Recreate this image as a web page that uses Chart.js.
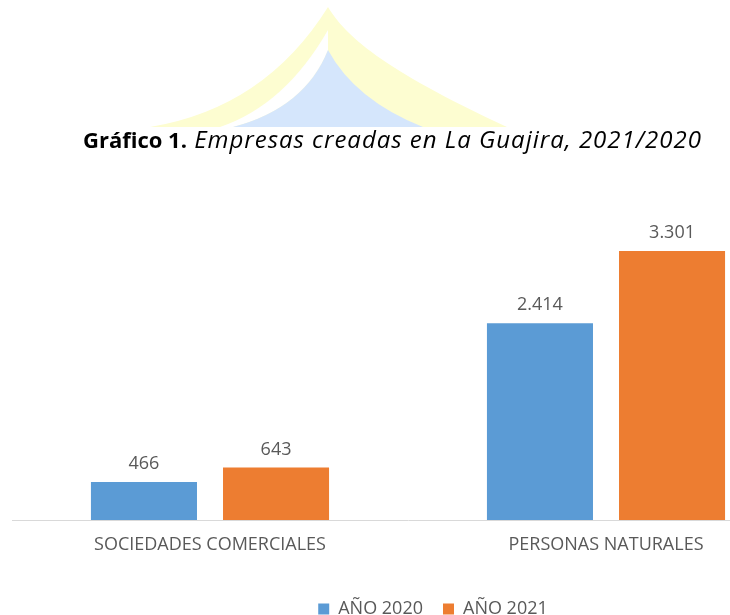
<!DOCTYPE html>
<html lang="es">
<head>
<meta charset="utf-8">
<title>Gráfico 1</title>
<script src="https://cdn.jsdelivr.net/npm/chart.js@4.4.1/dist/chart.umd.min.js"></script>
<style>
  html, body { margin: 0; padding: 0; background: #ffffff; overflow: hidden; }
  #grafico { position: absolute; left: 0; top: 0; }
</style>
</head>
<body>
<canvas id="grafico" width="854" height="628"></canvas>
<script>
// Datos del gráfico
const categorias = ['SOCIEDADES COMERCIALES', 'PERSONAS NATURALES'];
const series = ['AÑO 2020', 'AÑO 2021'];
const valores2020 = [466, 2414];
const valores2021 = [643, 3301];
const colores = ['#5b9bd5', '#ed7d31'];

// formato con punto de miles (2.414)
function formatoMiles(n) {
    return String(n).replace(/\B(?=(\d{3})+(?!\d))/g, '.');
}

// fondo decorativo (logo tenue) + título
const fondoTitulo = {
    id: 'fondoTitulo',
    beforeDraw(chart) {
        const ctx = chart.ctx;
        ctx.save();
        // arco amarillo
        ctx.fillStyle = '#fdfdd1';
        ctx.beginPath();
        ctx.moveTo(150, 127);
        ctx.quadraticCurveTo(265, 108, 328, 7);
        ctx.bezierCurveTo(345, 35, 380, 68, 507, 127);
        ctx.closePath();
        ctx.fill();
        // franja blanca
        ctx.fillStyle = '#ffffff';
        ctx.beginPath();
        ctx.moveTo(220, 127);
        ctx.quadraticCurveTo(285, 105, 328, 30);
        ctx.lineTo(328, 50);
        ctx.quadraticCurveTo(305, 108, 233, 127);
        ctx.closePath();
        ctx.fill();
        // pico azul
        ctx.fillStyle = '#d5e6fc';
        ctx.beginPath();
        ctx.moveTo(233, 127);
        ctx.quadraticCurveTo(305, 108, 328, 50);
        ctx.quadraticCurveTo(355, 100, 423, 127);
        ctx.closePath();
        ctx.fill();

        // título: negrita + cursiva
        const parte1 = 'Gráfico 1.';
        const parte2 = ' Empresas creadas en La Guajira, 2021/2020';
        const f1 = 'bold 22px "Open Sans"';
        const f2 = 'italic 24px "Open Sans"';
        const x0 = 83, x1 = 702;
        ctx.fillStyle = '#000000';
        ctx.textBaseline = 'alphabetic';
        ctx.textAlign = 'left';
        ctx.font = f1;
        const w1 = ctx.measureText(parte1).width;
        ctx.fillText(parte1, x0, 148);
        ctx.font = f2;
        const w2 = ctx.measureText(parte2).width;
        const esp = Math.max(0, (x1 - x0 - w1 - w2) / parte2.length);
        ctx.letterSpacing = esp.toFixed(2) + 'px';
        ctx.fillText(parte2, x0 + w1, 148);
        ctx.letterSpacing = '0px';
        ctx.restore();
    }
};

// etiquetas de valor sobre cada barra
const etiquetasValor = {
    id: 'etiquetasValor',
    afterDatasetsDraw(chart) {
        const ctx = chart.ctx;
        ctx.save();
        ctx.font = '18px "Open Sans"';
        ctx.fillStyle = '#595959';
        ctx.textAlign = 'center';
        ctx.textBaseline = 'alphabetic';
        chart.data.datasets.forEach((ds, i) => {
            const meta = chart.getDatasetMeta(i);
            meta.data.forEach((bar, j) => {
                ctx.fillText(formatoMiles(ds.data[j]), bar.x, bar.y - 13);
            });
        });
        ctx.restore();
    }
};

const ctx = document.getElementById('grafico').getContext('2d');
new Chart(ctx, {
    type: 'bar',
    data: {
        labels: categorias,
        datasets: [
            { label: series[0], data: valores2020, backgroundColor: colores[0], borderWidth: 0 },
            { label: series[1], data: valores2021, backgroundColor: colores[1], borderWidth: 0 }
        ]
    },
    options: {
        responsive: false,
        animation: false,
        devicePixelRatio: 1,
        categoryPercentage: 0.667,
        barPercentage: 0.803,
        layout: { padding: { left: 12, top: 194, right: 0, bottom: 0 } },
        plugins: {
            title: { display: false },
            tooltip: { enabled: false },
            legend: {
                display: true,
                position: 'bottom',
                labels: {
                    boxWidth: 11,
                    boxHeight: 11,
                    padding: 20,
                    color: '#595959',
                    font: { family: '"Open Sans"', size: 18 }
                }
            }
        },
        scales: {
            x: {
                grid: { display: false },
                border: { display: true, color: '#d9d9d9', width: 1 },
                ticks: {
                    color: '#595959',
                    padding: 6,
                    font: { family: '"Open Sans"', size: 18 }
                },
                afterFit(scale) { scale.height = 60; }
            },
            y: {
                position: 'right',
                min: 0,
                max: 4000,
                grid: { display: false },
                border: { display: false },
                ticks: { display: false },
                afterFit(scale) { scale.width = 50; }
            }
        }
    },
    plugins: [fondoTitulo, etiquetasValor]
});
</script>
</body>
</html>
